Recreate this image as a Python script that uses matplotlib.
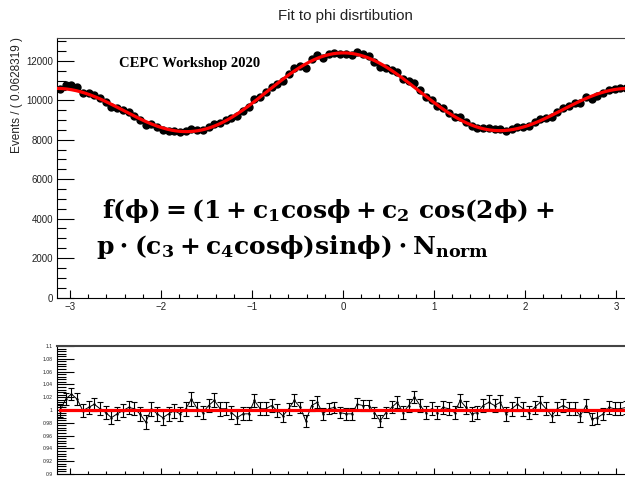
import numpy as np
import matplotlib
matplotlib.use("Agg")
import matplotlib.pyplot as plt
from matplotlib.ticker import MultipleLocator, NullFormatter

plt.rcParams['font.family'] = ['Liberation Sans', 'DejaVu Sans']
plt.rcParams['mathtext.fontset'] = 'custom'
plt.rcParams['mathtext.rm'] = 'DejaVu Serif:bold'
plt.rcParams['mathtext.it'] = 'DejaVu Serif:bold'
plt.rcParams['mathtext.bf'] = 'DejaVu Serif:bold'

# ---- data -------------------------------------------------------------
n_bins = 100
# data / fit ratio (one value per bin, phi from -pi to pi)
ratio = [
    0.999, 1.017, 1.025, 1.017, 0.999, 1.004, 1.009, 1.002, 0.996, 0.988,
    0.994, 0.999, 1.004, 1.002, 0.994, 0.981, 1.002, 0.994, 0.988, 0.994,
    0.999, 0.994, 1.002, 1.017, 1.002, 0.996, 1.007, 1.015, 1.002, 1.002,
    0.996, 0.988, 0.994, 0.994, 1.015, 1.002, 1.002, 1.007, 0.999, 0.991,
    1.002, 1.015, 1.004, 0.983, 1.007, 1.012,
    0.994, 1.002, 1.004, 0.996, 0.994, 0.994, 1.009, 1.007, 1.007, 0.996,
    0.983, 0.996, 1.004, 1.012, 0.996, 1.007, 1.020, 1.007, 0.996, 1.002,
    0.996, 1.004, 1.002, 0.996, 1.015, 1.004, 0.994, 0.996, 1.007, 1.012,
    1.007, 1.012, 0.994, 1.002, 1.009, 1.002, 0.996, 1.004, 1.012, 1.002,
    0.991, 1.002, 1.007, 1.002, 1.002, 0.991, 1.007, 0.986, 0.988, 0.994,
    1.004, 1.002, 1.002, 1.004,
]
# fit parameters of f(phi) = (1 + c1 cos + c2 cos2 + p(c3 + c4 cos) sin) * N
N_norm = 10000.0
c1 = 0.09
c2 = 0.15
p_c3 = 0.0025
p_c4 = 0.0

title = "Fit to phi disrtibution"
ylabel = "Events / ( 0.0628319 )"
label_text = "CEPC Workshop 2020"
formula1 = r"$f(\phi) = (1 + c_1cos\phi + c_2\ cos(2\phi) +$"
formula2 = r"$p \cdot (c_3 + c_4cos\phi)sin\phi) \cdot N_{norm}$"
yticks_top = [0, 2000, 4000, 6000, 8000, 10000, 12000]
xticks = [-3, -2, -1, 0, 1, 2, 3]
yticks_bot = [0.9, 0.92, 0.94, 0.96, 0.98, 1.0, 1.02, 1.04, 1.06, 1.08, 1.1]
ytick_bot_labels = ["0.9", "0.92", "0.94", "0.96", "0.98", "1", "1.02", "1.04", "1.06", "1.08", "1.1"]


def fit(phi):
    return N_norm * (1 + c1 * np.cos(phi) + c2 * np.cos(2 * phi)
                     + (p_c3 + p_c4 * np.cos(phi)) * np.sin(phi))


edges = np.linspace(-np.pi, np.pi, n_bins + 1)
centers = 0.5 * (edges[:-1] + edges[1:])
ratio = np.array(ratio)
counts = np.round(ratio * fit(centers))
err = np.sqrt(counts)
ratio_err = err / fit(centers)

# ---- figure -----------------------------------------------------------
W, H = 625, 478
fig = plt.figure(figsize=(W / 100, H / 100), dpi=100)
x0, x1 = 57.1, 628.9
ax1 = fig.add_axes([x0 / W, 1 - 297.5 / H, (x1 - x0) / W, (297.5 - 37.7) / H])
ax2 = fig.add_axes([x0 / W, 1 - 474 / H, (x1 - x0) / W, (474 - 346) / H])

# top panel
ax1.errorbar(centers, counts, yerr=err, fmt='o', color='black', ms=5,
             elinewidth=0.8, capsize=0, zorder=2)
phi_fine = np.linspace(-np.pi, np.pi, 600)
ax1.plot(phi_fine, fit(phi_fine), color='#ff0000', lw=2.3, zorder=3)
ax1.set_xlim(-np.pi, np.pi)
ax1.set_ylim(0, 13170)
ax1.set_yticks(yticks_top)
ax1.set_yticklabels([str(v) for v in yticks_top])
ax1.set_xticks(xticks)
ax1.set_xticklabels([("\u2212%d" % -v) if v < 0 else str(v) for v in xticks])
ax1.yaxis.set_minor_locator(MultipleLocator(500))
ax1.xaxis.set_minor_locator(MultipleLocator(0.2))
ax1.tick_params(which='both', direction='in', top=False, right=False, color='black')
ax1.tick_params(axis='y', which='major', length=12, width=0.8, labelsize=7, pad=3, labelcolor='#222222')
ax1.tick_params(axis='y', which='minor', length=6.5, width=0.8)
ax1.tick_params(axis='x', which='major', length=6, width=0.8, labelsize=7, pad=3, labelcolor='#222222')
ax1.tick_params(axis='x', which='minor', length=2.7, width=0.8)
for s in ax1.spines.values():
    s.set_linewidth(0.8)
ax1.spines['top'].set_color('#444444')

# bottom panel
ax2.errorbar(centers, ratio, yerr=ratio_err, fmt='-', color='black', lw=0.7,
             elinewidth=0.8, capsize=2.2, capthick=0.8, marker='.', ms=1.5, zorder=2)
ax2.plot([centers[0], centers[-1]], [1, 1], color='#ff0000', lw=2.3, zorder=3)
ax2.set_xlim(-np.pi, np.pi)
ax2.set_ylim(0.9, 1.1)
ax2.set_yticks(yticks_bot)
ax2.set_yticklabels(ytick_bot_labels)
ax2.set_xticks(xticks)
ax2.xaxis.set_major_formatter(NullFormatter())
ax2.yaxis.set_minor_locator(MultipleLocator(0.004))
ax2.xaxis.set_minor_locator(MultipleLocator(0.2))
ax2.tick_params(which='both', direction='in', top=False, right=False, color='black')
ax2.tick_params(axis='y', which='major', length=12, width=0.8, labelsize=3.7, pad=3, labelcolor='#222222')
ax2.tick_params(axis='y', which='minor', length=6.5, width=0.8)
ax2.tick_params(axis='x', which='major', length=4, width=0.8)
ax2.tick_params(axis='x', which='minor', length=2.2, width=0.8)
for s in ax2.spines.values():
    s.set_linewidth(0.8)
ax2.spines['top'].set_linewidth(1.5)
ax2.spines['top'].set_color('#444444')

# texts
fig.text(345 / W, 1 - 16 / H, title, ha='center', va='center', fontsize=10.8, color='#222222')
fig.text(17.5 / W, 1 - 37 / H, ylabel, rotation=90, ha='center', va='top', fontsize=8.5, color='#222222')
fig.text(119 / W, 1 - 63 / H, label_text, family='Liberation Serif', weight='bold',
         fontsize=10.5, va='center', ha='left')
fig.text(102 / W, 1 - 211 / H, formula1, fontsize=18, va='center', ha='left')
fig.text(96 / W, 1 - 247 / H, formula2, fontsize=18, va='center', ha='left')

fig.savefig("out.png", dpi=100)
